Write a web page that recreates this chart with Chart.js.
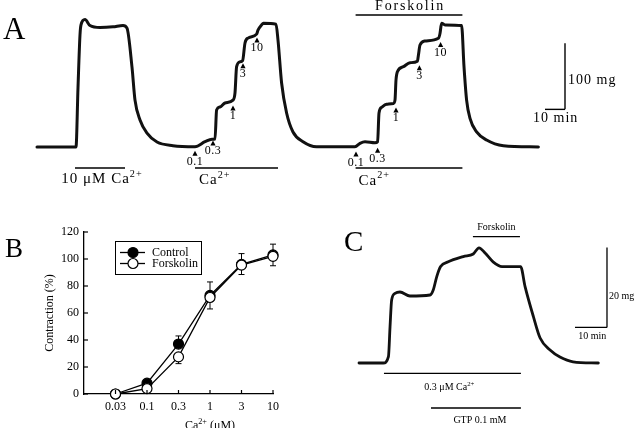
<!DOCTYPE html>
<html>
<head>
<meta charset="utf-8">
<script src="https://cdn.jsdelivr.net/npm/chart.js@4.4.0/dist/chart.umd.min.js"></script>
<style>
html, body { margin: 0; padding: 0; background: #fff; width: 634px; height: 428px; overflow: hidden; }
.panel { position: absolute; }
</style>
</head>
<body>
<div class="panel" style="left:0;top:0;width:634px;height:200px"><canvas id="chartA"></canvas></div>
<div class="panel" style="left:0;top:210px;width:320px;height:218px"><canvas id="chartB"></canvas></div>
<div class="panel" style="left:320px;top:210px;width:314px;height:218px"><canvas id="chartC"></canvas></div>
<script>
var SERIF = '"Liberation Serif", "Times New Roman", serif';

// ---- panel A : tension trace, time in min, tension in mg
var timeA = [0, 19.5, 20.5, 21.5, 22, 24, 26.5, 31.5, 38, 43, 45, 47.5, 49, 51.5, 55, 60, 68, 79, 84, 87.5,
  89, 89.8, 91.5, 94, 98, 99, 99.8, 101.5, 102.8, 104, 105.5, 109.8, 110.5, 112.3, 113.2, 119.5, 120.5, 122.3, 124.8, 128,
  133, 139.8, 159, 161.5, 164, 169, 170.3, 171, 172.3, 174.8, 178.2, 179, 179.5, 180.2, 183.2, 186.5, 190.2, 190.7, 191.5, 194,
  200.7, 201.5, 202.3, 204, 212.3, 213.5, 214.8, 216.5, 219.8, 224.8, 233.2, 250.7];
var forceA = [0, 0, 90, 170, 185, 193, 184, 181, 182, 184, 180, 121, 71, 41, 21, 7.5, 2, 0.5, 8, 11.7,
  12, 56, 60.6, 66.7, 71, 82, 121.7, 129, 130.8, 157.6, 165, 171, 177, 185, 187.4, 186, 162, 97, 51.5, 22.7,
  8, 0.5, 0.5, 5.6, 8, 6.5, 8, 51.5, 60, 64.6, 66, 71, 101.5, 114, 121.7, 127.7, 130, 139, 154.5, 160.6,
  164.7, 172, 187.4, 185, 184, 121.7, 71, 43.4, 23, 10.6, 2, 0];

// cumulative Ca2+ additions (uM) marked by arrowheads
var arrowTimeA  = [79, 88, 98, 103, 110, 159.5, 170.3, 179.5, 191.2, 201.8];
var arrowForceA = [-5.6, 10, 63, 127, 166, -7, -1, 60, 124, 159];
var arrowLabelA = ['0.1', '0.3', '1', '3', '10', '0.1', '0.3', '1', '3', '10'];

// application periods (min)
var ca10BarA = [19, 44];
var caBarA1 = [79, 120.5];
var caBarA2 = [159.3, 212.7];
var forskBarA = [159.3, 212.7];

// ---- panel B : concentration-response
var concLabels = ['0.03', '0.1', '0.3', '1', '3', '10'];
var controlMean = [0, 8, 37, 73, 96, 103];
var controlErr = [0, 1.5, 6, 10, 8, 8];
var forskMean = [0, 4, 27.5, 71.5, 95.5, 102];
var forskErr = [0, 1.5, 5, 8.5, 7, 7];

// ---- panel C : tension trace, time in min, tension in mg
var timeC = [0, 7.6, 9.2, 9.7, 10.2, 11.25, 12.8, 15.9, 22.2, 23.2, 24.3, 25.5, 27.9, 32.6, 35.7, 37.5, 39.4, 41.9, 44.7, 50.5,
  51.9, 54.5, 56.6, 59.7, 62.8, 66.9, 74.8];
var forceC = [0, 0, 1.6, 9.1, 15.75, 17.4, 17.75, 16.75, 17, 18.25, 21.6, 24.1, 25.3, 26.6, 27.25, 28.8, 27.5, 25.3, 24.1, 24.1,
  19.1, 11.6, 6.25, 3.25, 1.5, 0.3, 0];
var caBarC = [7.8, 50.6];
var gtpBarC = [22.5, 50.6];
var forskBarC = [35.6, 50.3];

function richText(ctx, x, y, parts, size, align, spacing) {
  var widths = [], total = 0;
  parts.forEach(function (p) {
    ctx.font = (p[1] ? size * 0.68 : size) + 'px ' + SERIF;
    ctx.letterSpacing = (spacing || 0) + 'px';
    var w = ctx.measureText(p[0]).width;
    widths.push(w);
    total += w;
  });
  var cx = align === 'center' ? x - total / 2 : (align === 'right' ? x - total : x);
  ctx.textAlign = 'left';
  ctx.textBaseline = 'alphabetic';
  parts.forEach(function (p, i) {
    ctx.font = (p[1] ? size * 0.68 : size) + 'px ' + SERIF;
    ctx.letterSpacing = (spacing || 0) + 'px';
    ctx.fillText(p[0], cx, p[1] ? y - size * 0.42 : y);
    cx += widths[i];
  });
  ctx.letterSpacing = '0px';
}

function hline(ctx, x1, x2, y, w) {
  ctx.lineWidth = w;
  ctx.beginPath();
  ctx.moveTo(x1, y);
  ctx.lineTo(x2, y);
  ctx.stroke();
}

function vline(ctx, x, y1, y2, w) {
  ctx.lineWidth = w;
  ctx.beginPath();
  ctx.moveTo(x, y1);
  ctx.lineTo(x, y2);
  ctx.stroke();
}

function traceData(ts, vs) {
  return ts.map(function (t, i) { return { x: t, y: vs[i] }; });
}

var annotA = {
  id: 'annotA',
  afterDraw: function (chart) {
    var ctx = chart.ctx, sx = chart.scales.x, sy = chart.scales.y;
    var X = function (t) { return sx.getPixelForValue(t); };
    var Y = function (v) { return sy.getPixelForValue(v); };
    ctx.save();
    ctx.fillStyle = '#000';
    ctx.strokeStyle = '#000';

    ctx.font = '31px ' + SERIF;
    ctx.textAlign = 'left';
    ctx.textBaseline = 'alphabetic';
    ctx.fillText('A', 3, 39);

    for (var i = 0; i < arrowTimeA.length; i++) {
      var ax = X(arrowTimeA[i]), ay = Y(arrowForceA[i]);
      ctx.beginPath();
      ctx.moveTo(ax, ay);
      ctx.lineTo(ax - 2.6, ay + 5);
      ctx.lineTo(ax + 2.6, ay + 5);
      ctx.closePath();
      ctx.fill();
      ctx.font = '12px ' + SERIF;
      ctx.letterSpacing = '0.5px';
      ctx.textAlign = 'center';
      ctx.fillText(arrowLabelA[i], ax, ay + 14);
      ctx.letterSpacing = '0px';
    }

    // bars under trace
    var barY = Y(-31.8);
    hline(ctx, X(ca10BarA[0]), X(ca10BarA[1]), barY, 1.4);
    hline(ctx, X(caBarA1[0]), X(caBarA1[1]), barY, 1.4);
    hline(ctx, X(caBarA2[0]), X(caBarA2[1]), barY, 1.4);
    richText(ctx, X((ca10BarA[0] + ca10BarA[1]) / 2) + 2, Y(-55), [['10 \u03bcM Ca', false], ['2+', true]], 15, 'center', 1);
    richText(ctx, X(caBarA1[0]) + 4, Y(-56), [['Ca', false], ['2+', true]], 15, 'left', 1);
    richText(ctx, X(caBarA2[0]) + 3, Y(-57), [['Ca', false], ['2+', true]], 15, 'left', 1);

    // forskolin bar
    hline(ctx, X(forskBarA[0]), X(forskBarA[1]), Y(200), 1.4);
    ctx.font = '14px ' + SERIF;
    ctx.letterSpacing = '1.8px';
    ctx.textAlign = 'center';
    ctx.fillText('Forskolin', X((forskBarA[0] + forskBarA[1]) / 2) + 1, Y(208));
    ctx.letterSpacing = '0px';

    // scale bar 100 mg / 10 min
    var sbT = 264, sbF = 57;
    vline(ctx, X(sbT), Y(sbF), Y(sbF + 100), 1.4);
    hline(ctx, X(sbT - 10), X(sbT), Y(sbF), 1.4);
    ctx.font = '14px ' + SERIF;
    ctx.letterSpacing = '1px';
    ctx.textAlign = 'left';
    ctx.fillText('100 mg', X(sbT) + 3, Y(95));
    ctx.fillText('10 min', X(sbT - 10) - 12, Y(38));
    ctx.letterSpacing = '0px';
    ctx.restore();
  }
};

new Chart(document.getElementById('chartA'), {
  type: 'line',
  data: {
    datasets: [{
      data: traceData(timeA, forceA),
      borderColor: '#111',
      borderWidth: 3,
      pointRadius: 0,
      cubicInterpolationMode: 'monotone',
      borderJoinStyle: 'round',
      borderCapStyle: 'round',
      fill: false
    }]
  },
  options: {
    responsive: true,
    maintainAspectRatio: false,
    animation: false,
    events: [],
    layout: { padding: 0 },
    plugins: { legend: { display: false }, tooltip: { enabled: false } },
    scales: {
      x: { type: 'linear', min: -18.5, max: 298.5, display: false },
      y: { type: 'linear', min: -80.3, max: 222.7, display: false }
    }
  },
  plugins: [annotA]
});

// ---- panel B
var annotB = {
  id: 'annotB',
  beforeDatasetsDraw: function (chart) {
    var ctx = chart.ctx, sx = chart.scales.x, sy = chart.scales.y;
    ctx.save();
    ctx.strokeStyle = '#000';
    ctx.lineWidth = 1;
    var sets = [[controlMean, controlErr, 1], [forskMean, forskErr, -1]];
    sets.forEach(function (s) {
      for (var i = 0; i < s[0].length; i++) {
        if (!s[1][i]) continue;
        var x = sx.getPixelForValue(i);
        var y0 = sy.getPixelForValue(s[0][i]);
        var y1 = sy.getPixelForValue(s[0][i] + s[2] * s[1][i]);
        vline(ctx, x, y0, y1, 1);
        hline(ctx, x - 3, x + 3, y1, 1);
      }
    });
    ctx.restore();
  },
  afterDraw: function (chart) {
    var ctx = chart.ctx, sx = chart.scales.x, sy = chart.scales.y, a = chart.chartArea;
    ctx.save();
    ctx.fillStyle = '#000';
    ctx.strokeStyle = '#000';

    // inward tick marks
    sx.ticks.forEach(function (t) {
      if (t.value < 0) return;
      vline(ctx, sx.getPixelForValue(t.value), a.bottom, a.bottom - 4, 1.2);
    });
    sy.ticks.forEach(function (t) {
      var y = sy.getPixelForValue(t.value);
      hline(ctx, a.left, a.left + 4, y, 1.2);
    });

    ctx.font = '27px ' + SERIF;
    ctx.textAlign = 'left';
    ctx.textBaseline = 'alphabetic';
    ctx.fillText('B', 5, 46.7);

    // axis titles
    ctx.save();
    ctx.translate(50, (a.top + a.bottom) / 2);
    ctx.rotate(-Math.PI / 2);
    ctx.font = '12px ' + SERIF;
    ctx.textAlign = 'center';
    ctx.textBaseline = 'middle';
    ctx.fillText('Contraction (%)', 0, 0);
    ctx.restore();
    richText(ctx, sx.getPixelForValue(3), a.bottom + 35, [['Ca', false], ['2+', true], [' (\u03bcM)', false]], 12, 'center', 0);

    // legend
    var L = a.left + 31, T = a.top + 9;
    ctx.lineWidth = 1;
    ctx.strokeRect(L + 0.5, T + 0.5, 86, 33);
    var rows = [['Control', '#000'], ['Forskolin', '#fff']];
    rows.forEach(function (r, i) {
      var ry = T + 11.5 + i * 11;
      hline(ctx, L + 5, L + 30, ry, 1.3);
      ctx.beginPath();
      ctx.arc(L + 18, ry, 5, 0, Math.PI * 2);
      ctx.fillStyle = r[1];
      ctx.fill();
      ctx.lineWidth = 1.2;
      ctx.stroke();
      ctx.fillStyle = '#000';
      ctx.font = '12px ' + SERIF;
      ctx.textAlign = 'left';
      ctx.textBaseline = 'middle';
      ctx.fillText(r[0], L + 37, ry + 0.5);
    });
    ctx.restore();
  }
};

new Chart(document.getElementById('chartB'), {
  type: 'line',
  data: {
    datasets: [{
      label: 'Control',
      data: controlMean.map(function (v, i) { return { x: i, y: v }; }),
      borderColor: '#000',
      borderWidth: 1.3,
      pointRadius: 5,
      pointBackgroundColor: '#000',
      pointBorderColor: '#000',
      pointBorderWidth: 1.2,
      tension: 0,
      clip: false,
      order: 1
    }, {
      label: 'Forskolin',
      data: forskMean.map(function (v, i) { return { x: i, y: v }; }),
      borderColor: '#000',
      borderWidth: 1.3,
      pointRadius: 5,
      pointBackgroundColor: '#fff',
      pointBorderColor: '#000',
      pointBorderWidth: 1.2,
      tension: 0,
      clip: false,
      order: 0
    }]
  },
  options: {
    responsive: true,
    maintainAspectRatio: false,
    animation: false,
    events: [],
    layout: { padding: { top: 22, right: 47, left: 0, bottom: 0 } },
    plugins: { legend: { display: false }, tooltip: { enabled: false } },
    scales: {
      x: {
        type: 'linear', min: -1, max: 5, offset: false,
        afterFit: function (s) { s.height = 34; },
        grid: { display: false, drawTicks: false },
        border: { display: true, color: '#000', width: 1.3 },
        ticks: {
          stepSize: 1, autoSkip: false, maxRotation: 0, padding: 6, color: '#000',
          font: { family: SERIF, size: 12 },
          callback: function (v) { return concLabels[v] || ''; }
        }
      },
      y: {
        type: 'linear', min: 0, max: 120,
        afterFit: function (s) { s.width = 84; },
        grid: { display: false, drawTicks: false },
        border: { display: true, color: '#000', width: 1.3 },
        ticks: { stepSize: 20, padding: 5, color: '#000', font: { family: SERIF, size: 12 } }
      }
    }
  },
  plugins: [annotB]
});

// ---- panel C
var annotC = {
  id: 'annotC',
  afterDraw: function (chart) {
    var ctx = chart.ctx, sx = chart.scales.x, sy = chart.scales.y;
    var X = function (t) { return sx.getPixelForValue(t); };
    var Y = function (v) { return sy.getPixelForValue(v); };
    ctx.save();
    ctx.fillStyle = '#000';
    ctx.strokeStyle = '#000';

    ctx.font = '29px ' + SERIF;
    ctx.textAlign = 'left';
    ctx.textBaseline = 'alphabetic';
    ctx.fillText('C', 24, 41);

    hline(ctx, X(forskBarC[0]), X(forskBarC[1]), Y(31.6), 1.4);
    ctx.font = '10px ' + SERIF;
    ctx.textAlign = 'center';
    ctx.fillText('Forskolin', X((forskBarC[0] + forskBarC[1]) / 2), Y(33.25));

    hline(ctx, X(caBarC[0]), X(caBarC[1]), Y(-2.6), 1.4);
    richText(ctx, X(20.4), Y(-6.75), [['0.3 \u03bcM Ca', false], ['2+', true]], 10, 'left', 0);
    hline(ctx, X(gtpBarC[0]), X(gtpBarC[1]), Y(-11.25), 1.4);
    richText(ctx, X(29.5), Y(-14.9), [['GTP 0.1 mM', false]], 10, 'left', 0);

    // scale bar 20 mg / 10 min
    var sbT = 77.5, sbF = 8.9;
    vline(ctx, X(sbT), Y(sbF), Y(sbF + 20), 1.3);
    hline(ctx, X(sbT - 10), X(sbT), Y(sbF), 1.3);
    ctx.font = '10px ' + SERIF;
    ctx.textAlign = 'left';
    ctx.fillText('20 mg', X(sbT) + 2, Y(15.9));
    ctx.fillText('10 min', X(68.5), Y(5.9));
    ctx.restore();
  }
};

new Chart(document.getElementById('chartC'), {
  type: 'line',
  data: {
    datasets: [{
      data: traceData(timeC, forceC),
      borderColor: '#111',
      borderWidth: 2.8,
      pointRadius: 0,
      cubicInterpolationMode: 'monotone',
      borderJoinStyle: 'round',
      borderCapStyle: 'round',
      fill: false
    }]
  },
  options: {
    responsive: true,
    maintainAspectRatio: false,
    animation: false,
    events: [],
    layout: { padding: 0 },
    plugins: { legend: { display: false }, tooltip: { enabled: false } },
    scales: {
      x: { type: 'linear', min: -12.19, max: 85.94, display: false },
      y: { type: 'linear', min: -16.25, max: 38.25, display: false }
    }
  },
  plugins: [annotC]
});
</script>
</body>
</html>
